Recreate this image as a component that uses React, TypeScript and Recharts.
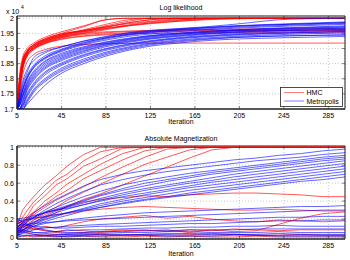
import React from 'react';
import { LineChart, Line, XAxis, YAxis, CartesianGrid, ReferenceArea } from 'recharts';

// ---------- data ----------
const X_TICKS = [5, 45, 85, 125, 165, 205, 245, 285];
const LL_TICKS = [1.7, 1.75, 1.8, 1.85, 1.9, 1.95, 2];
const MAG_TICKS = [0, 0.2, 0.4, 0.6, 0.8, 1];

const LL_X = [5, 7, 10, 14, 20, 30, 45, 65, 85, 105, 125, 150, 175, 200, 250, 300];
const LL_HMC = [
  [1.70, 1.78, 1.855, 1.89, 1.912, 1.932, 1.95, 1.972, 1.995, 2.0, 2.0, 2.0, 2.0, 2.0, 2.0, 2.0],
  [1.70, 1.77, 1.845, 1.885, 1.907, 1.927, 1.945, 1.962, 1.98, 1.995, 2.0, 2.0, 2.0, 2.0, 2.0, 2.0],
  [1.70, 1.76, 1.835, 1.878, 1.902, 1.922, 1.94, 1.955, 1.97, 1.985, 1.995, 2.0, 2.0, 2.0, 2.0, 2.0],
  [1.70, 1.79, 1.86, 1.893, 1.913, 1.93, 1.948, 1.96, 1.972, 1.982, 1.99, 1.998, 2.0, 2.0, 2.0, 2.0],
  [1.70, 1.75, 1.825, 1.872, 1.897, 1.917, 1.935, 1.95, 1.962, 1.975, 1.985, 1.993, 2.0, 2.0, 2.0, 2.0],
  [1.70, 1.78, 1.85, 1.885, 1.905, 1.922, 1.938, 1.952, 1.965, 1.978, 1.988, 1.995, 1.998, 2.0, 2.0, 2.0],
  [1.70, 1.77, 1.84, 1.88, 1.90, 1.917, 1.932, 1.942, 1.948, 1.952, 1.955, 1.957, 1.958, 1.958, 1.958, 1.958],
  [1.70, 1.74, 1.81, 1.855, 1.88, 1.896, 1.908, 1.913, 1.916, 1.917, 1.918, 1.918, 1.918, 1.918, 1.918, 1.918],
  [1.70, 1.76, 1.835, 1.875, 1.896, 1.915, 1.93, 1.94, 1.945, 1.948, 1.95, 1.951, 1.952, 1.952, 1.952, 1.952],
  [1.70, 1.77, 1.85, 1.887, 1.907, 1.925, 1.94, 1.95, 1.955, 1.958, 1.96, 1.962, 1.963, 1.964, 1.965, 1.965],
  [1.70, 1.78, 1.855, 1.89, 1.912, 1.932, 1.948, 1.958, 1.968, 1.975, 1.982, 1.99, 1.997, 2.0, 2.0, 2.0],
  [1.70, 1.80, 1.87, 1.90, 1.918, 1.937, 1.955, 1.975, 1.995, 2.0, 2.0, 2.0, 2.0, 2.0, 2.0, 2.0],
  [1.70, 1.76, 1.835, 1.878, 1.902, 1.922, 1.942, 1.958, 1.975, 1.99, 2.0, 2.0, 2.0, 2.0, 2.0, 2.0],
  [1.70, 1.77, 1.845, 1.885, 1.907, 1.927, 1.945, 1.96, 1.972, 1.985, 1.995, 2.0, 2.0, 2.0, 2.0, 2.0],
  [1.70, 1.79, 1.86, 1.893, 1.911, 1.928, 1.944, 1.956, 1.966, 1.976, 1.984, 1.99, 1.995, 1.998, 2.0, 2.0],
  [1.70, 1.76, 1.835, 1.88, 1.90, 1.919, 1.936, 1.946, 1.952, 1.956, 1.958, 1.96, 1.96, 1.96, 1.96, 1.96],
];
const LL_MET = [
  [1.70, 1.74, 1.79, 1.83, 1.86, 1.885, 1.905, 1.925, 1.94, 1.952, 1.96, 1.966, 1.972, 1.98, 1.997, 2.0],
  [1.70, 1.73, 1.77, 1.81, 1.845, 1.875, 1.898, 1.92, 1.935, 1.946, 1.954, 1.962, 1.968, 1.973, 1.98, 1.986],
  [1.70, 1.72, 1.76, 1.80, 1.835, 1.865, 1.89, 1.912, 1.928, 1.94, 1.948, 1.956, 1.962, 1.967, 1.974, 1.98],
  [1.70, 1.72, 1.75, 1.79, 1.825, 1.858, 1.884, 1.906, 1.922, 1.934, 1.943, 1.951, 1.957, 1.962, 1.969, 1.975],
  [1.70, 1.71, 1.74, 1.78, 1.815, 1.85, 1.876, 1.90, 1.917, 1.93, 1.94, 1.948, 1.954, 1.959, 1.966, 1.971],
  [1.70, 1.71, 1.73, 1.77, 1.805, 1.84, 1.868, 1.893, 1.912, 1.925, 1.935, 1.944, 1.95, 1.955, 1.962, 1.967],
  [1.70, 1.70, 1.72, 1.76, 1.795, 1.832, 1.86, 1.886, 1.906, 1.92, 1.931, 1.94, 1.947, 1.952, 1.959, 1.964],
  [1.70, 1.70, 1.715, 1.75, 1.785, 1.822, 1.852, 1.88, 1.90, 1.915, 1.926, 1.936, 1.943, 1.948, 1.955, 1.96],
  [1.70, 1.70, 1.71, 1.74, 1.775, 1.812, 1.844, 1.873, 1.894, 1.91, 1.922, 1.932, 1.939, 1.944, 1.951, 1.956],
  [1.70, 1.70, 1.705, 1.73, 1.765, 1.80, 1.835, 1.865, 1.888, 1.905, 1.918, 1.928, 1.935, 1.94, 1.947, 1.952],
  [1.70, 1.70, 1.70, 1.72, 1.755, 1.79, 1.825, 1.856, 1.88, 1.898, 1.912, 1.922, 1.93, 1.936, 1.942, 1.946],
  [1.70, 1.70, 1.70, 1.715, 1.74, 1.778, 1.818, 1.85, 1.875, 1.894, 1.908, 1.918, 1.926, 1.931, 1.936, 1.94],
  [1.70, 1.73, 1.78, 1.82, 1.87, 1.89, 1.905, 1.924, 1.938, 1.95, 1.958, 1.965, 1.97, 1.975, 1.982, 1.988],
  [1.70, 1.72, 1.76, 1.80, 1.838, 1.868, 1.893, 1.915, 1.932, 1.944, 1.952, 1.96, 1.965, 1.97, 1.977, 1.983],
  [1.70, 1.71, 1.745, 1.785, 1.82, 1.855, 1.88, 1.903, 1.92, 1.932, 1.942, 1.95, 1.956, 1.961, 1.968, 1.972],
  [1.70, 1.70, 1.725, 1.765, 1.80, 1.836, 1.864, 1.89, 1.91, 1.923, 1.933, 1.942, 1.949, 1.954, 1.96, 1.963],
  [1.70, 1.70, 1.71, 1.745, 1.78, 1.818, 1.848, 1.877, 1.898, 1.913, 1.924, 1.934, 1.941, 1.946, 1.952, 1.957],
  [1.70, 1.70, 1.70, 1.725, 1.76, 1.795, 1.83, 1.86, 1.884, 1.902, 1.915, 1.925, 1.932, 1.937, 1.942, 1.944],
  [1.70, 1.72, 1.765, 1.805, 1.84, 1.87, 1.895, 1.918, 1.935, 1.947, 1.956, 1.963, 1.969, 1.974, 1.98, 1.985],
  [1.70, 1.71, 1.74, 1.775, 1.81, 1.845, 1.872, 1.897, 1.915, 1.928, 1.938, 1.947, 1.953, 1.958, 1.964, 1.968],
];

const MAG_X = [5, 10, 15, 20, 30, 40, 50, 65, 80, 100, 120, 140, 160, 180, 200, 220, 240, 260, 280, 300];
const MAG_HMC = [
  [0.12, 0.30, 0.38, 0.45, 0.58, 0.68, 0.79, 0.92, 1, 1, 1, 1, 1, 1, 1, 1, 1, 1, 1, 1],
  [0.08, 0.22, 0.31, 0.39, 0.51, 0.63, 0.70, 0.85, 0.95, 1, 1, 1, 1, 1, 1, 1, 1, 1, 1, 1],
  [0.05, 0.18, 0.25, 0.35, 0.46, 0.58, 0.65, 0.79, 0.87, 0.99, 1, 1, 1, 1, 1, 1, 1, 1, 1, 1],
  [0.10, 0.16, 0.23, 0.28, 0.40, 0.49, 0.59, 0.70, 0.81, 0.93, 1, 1, 1, 1, 1, 1, 1, 1, 1, 1],
  [0.03, 0.12, 0.19, 0.27, 0.36, 0.45, 0.52, 0.65, 0.74, 0.86, 0.96, 1, 1, 1, 1, 1, 1, 1, 1, 1],
  [0.07, 0.14, 0.21, 0.25, 0.33, 0.41, 0.47, 0.56, 0.66, 0.78, 0.89, 0.98, 1, 1, 1, 1, 1, 1, 1, 1],
  [0.02, 0.08, 0.13, 0.19, 0.27, 0.33, 0.41, 0.50, 0.59, 0.70, 0.81, 0.89, 0.97, 1, 1, 1, 1, 1, 1, 1],
  [0.04, 0.07, 0.11, 0.14, 0.21, 0.27, 0.34, 0.42, 0.48, 0.58, 0.68, 0.78, 0.88, 0.97, 1, 1, 1, 1, 1, 1],
  [0.05, 0.10, 0.15, 0.19, 0.25, 0.30, 0.34, 0.39, 0.42, 0.44, 0.46, 0.45, 0.47, 0.48, 0.49, 0.49, 0.48, 0.47, 0.45, 0.45],
  [0.15, 0.17, 0.19, 0.21, 0.22, 0.25, 0.26, 0.29, 0.31, 0.33, 0.34, 0.33, 0.32, 0.31, 0.30, 0.30, 0.31, 0.30, 0.29, 0.29],
  [0.10, 0.12, 0.10, 0.08, 0.12, 0.10, 0.13, 0.17, 0.20, 0.22, 0.24, 0.21, 0.23, 0.20, 0.18, 0.17, 0.19, 0.18, 0.17, 0.18],
  [0.05, 0.06, 0.08, 0.10, 0.07, 0.05, 0.04, 0.05, 0.06, 0.08, 0.07, 0.08, 0.05, 0.08, 0.06, 0.07, 0.14, 0.21, 0.26, 0.28],
  [0.18, 0.15, 0.12, 0.09, 0.07, 0.06, 0.08, 0.07, 0.05, 0.07, 0.08, 0.06, 0.08, 0.07, 0.09, 0.08, 0.07, 0.08, 0.08, 0.08],
  [0.08, 0.06, 0.05, 0.03, 0.02, 0.03, 0.02, 0.02, 0.03, 0.02, 0.03, 0.04, 0.03, 0.02, 0.03, 0.02, 0.02, 0.03, 0.02, 0.02],
  [0.02, 0.01, 0.01, 0.00, 0.01, 0.00, 0.01, 0.01, 0.00, 0.00, 0.01, 0.00, 0.01, 0.00, 0.00, 0.01, 0.00, 0.00, 0.00, 0.00],
];
const MAG_MET = [
  [0.10, 0.16, 0.22, 0.27, 0.35, 0.42, 0.48, 0.57, 0.64, 0.70, 0.74, 0.77, 0.80, 0.83, 0.86, 0.88, 0.91, 0.93, 0.96, 0.98],
  [0.05, 0.12, 0.18, 0.22, 0.30, 0.37, 0.43, 0.51, 0.58, 0.64, 0.69, 0.73, 0.76, 0.79, 0.82, 0.85, 0.87, 0.89, 0.92, 0.94],
  [0.08, 0.13, 0.17, 0.21, 0.28, 0.33, 0.38, 0.45, 0.51, 0.58, 0.63, 0.67, 0.71, 0.74, 0.77, 0.80, 0.83, 0.86, 0.89, 0.91],
  [0.12, 0.15, 0.19, 0.22, 0.27, 0.31, 0.35, 0.41, 0.47, 0.54, 0.60, 0.64, 0.68, 0.72, 0.75, 0.78, 0.81, 0.84, 0.87, 0.89],
  [0.02, 0.07, 0.12, 0.16, 0.23, 0.29, 0.34, 0.40, 0.46, 0.52, 0.57, 0.62, 0.66, 0.70, 0.73, 0.76, 0.79, 0.82, 0.85, 0.87],
  [0.15, 0.18, 0.20, 0.23, 0.27, 0.30, 0.33, 0.38, 0.43, 0.49, 0.54, 0.58, 0.62, 0.66, 0.70, 0.73, 0.76, 0.79, 0.82, 0.85],
  [0.06, 0.10, 0.14, 0.17, 0.22, 0.27, 0.31, 0.36, 0.41, 0.47, 0.52, 0.56, 0.60, 0.63, 0.67, 0.70, 0.73, 0.76, 0.79, 0.82],
  [0.20, 0.21, 0.22, 0.24, 0.27, 0.30, 0.32, 0.36, 0.40, 0.45, 0.49, 0.53, 0.57, 0.61, 0.64, 0.67, 0.70, 0.73, 0.76, 0.79],
  [0.03, 0.08, 0.11, 0.14, 0.19, 0.23, 0.27, 0.32, 0.37, 0.42, 0.47, 0.51, 0.55, 0.58, 0.61, 0.64, 0.67, 0.70, 0.73, 0.76],
  [0.09, 0.11, 0.14, 0.16, 0.20, 0.24, 0.27, 0.31, 0.35, 0.40, 0.44, 0.48, 0.52, 0.55, 0.58, 0.61, 0.64, 0.67, 0.70, 0.73],
  [0.01, 0.05, 0.09, 0.12, 0.17, 0.21, 0.24, 0.29, 0.33, 0.38, 0.42, 0.45, 0.49, 0.52, 0.55, 0.58, 0.61, 0.64, 0.67, 0.70],
  [0.18, 0.19, 0.20, 0.21, 0.23, 0.25, 0.27, 0.30, 0.33, 0.37, 0.41, 0.44, 0.47, 0.50, 0.53, 0.56, 0.59, 0.62, 0.64, 0.67],
  [0.05, 0.08, 0.10, 0.12, 0.15, 0.17, 0.19, 0.21, 0.23, 0.25, 0.27, 0.28, 0.29, 0.30, 0.31, 0.32, 0.33, 0.34, 0.34, 0.35],
  [0.12, 0.13, 0.14, 0.15, 0.16, 0.17, 0.18, 0.19, 0.20, 0.21, 0.22, 0.23, 0.24, 0.25, 0.26, 0.27, 0.28, 0.29, 0.30, 0.30],
  [0.02, 0.04, 0.06, 0.08, 0.10, 0.11, 0.12, 0.13, 0.14, 0.15, 0.16, 0.17, 0.18, 0.19, 0.20, 0.21, 0.22, 0.22, 0.23, 0.23],
  [0.15, 0.14, 0.13, 0.12, 0.11, 0.10, 0.10, 0.11, 0.12, 0.12, 0.13, 0.14, 0.15, 0.15, 0.16, 0.17, 0.18, 0.18, 0.19, 0.19],
  [0.08, 0.07, 0.06, 0.05, 0.05, 0.06, 0.07, 0.08, 0.08, 0.09, 0.10, 0.10, 0.11, 0.11, 0.12, 0.12, 0.13, 0.12, 0.12, 0.12],
  [0.20, 0.17, 0.14, 0.11, 0.08, 0.06, 0.05, 0.05, 0.06, 0.06, 0.07, 0.07, 0.08, 0.08, 0.08, 0.09, 0.09, 0.09, 0.09, 0.09],
  [0.10, 0.08, 0.07, 0.05, 0.04, 0.03, 0.03, 0.04, 0.04, 0.05, 0.05, 0.06, 0.06, 0.05, 0.05, 0.05, 0.06, 0.05, 0.05, 0.05],
  [0.03, 0.02, 0.02, 0.01, 0.02, 0.02, 0.03, 0.03, 0.02, 0.02, 0.03, 0.03, 0.04, 0.04, 0.03, 0.03, 0.04, 0.03, 0.03, 0.03],
  [0.06, 0.05, 0.04, 0.03, 0.02, 0.01, 0.01, 0.02, 0.03, 0.03, 0.02, 0.02, 0.02, 0.03, 0.03, 0.02, 0.02, 0.02, 0.02, 0.02],
  [0.00, 0.01, 0.02, 0.02, 0.01, 0.01, 0.00, 0.01, 0.01, 0.02, 0.02, 0.01, 0.01, 0.01, 0.02, 0.02, 0.01, 0.01, 0.01, 0.01],
];

// ---------- style ----------
const FONT = '"Liberation Sans", Arial, Helvetica, sans-serif';
const W = 350;
const H = 130;
const TOP = 16;
const RIGHT = 5;
const XAXIS_H = 21;
const YAXIS_W = 17;
const PLOT_RIGHT = W - RIGHT;
const RED = '#ff0000';
const BLUE = '#0000ff';

const XTick = (props: any) => {
  const { x, y, payload } = props;
  return (
    <g>
      <line x1={x} x2={x} y1={y} y2={y - 3} stroke="#333" strokeWidth={0.6} />
      <line x1={x} x2={x} y1={TOP} y2={TOP + 3} stroke="#333" strokeWidth={0.6} />
      <text x={x} y={y + 8.5} textAnchor="middle" fontSize={7} fontFamily={FONT} fill="#000">
        {payload.value}
      </text>
    </g>
  );
};

const YTick = (props: any) => {
  const { x, y, payload } = props;
  return (
    <g>
      <line x1={x} x2={x + 3} y1={y} y2={y} stroke="#333" strokeWidth={0.6} />
      <line x1={PLOT_RIGHT} x2={PLOT_RIGHT - 3} y1={y} y2={y} stroke="#333" strokeWidth={0.6} />
      <text x={x - 3} y={y + 2.5} textAnchor="end" fontSize={7} fontFamily={FONT} fill="#000">
        {String(payload.value)}
      </text>
    </g>
  );
};

function buildRows(xs: number[], hmc: number[][], met: number[][]) {
  return xs.map((x, i) => {
    const row: any = { x };
    hmc.forEach((s, k) => (row['h' + k] = s[i]));
    met.forEach((s, k) => (row['m' + k] = s[i]));
    return row;
  });
}

function Panel(props: {
  xs: number[];
  hmc: number[][];
  met: number[][];
  domain: [number, number];
  ticks: number[];
  curve: 'monotone' | 'linear';
}) {
  const { xs, hmc, met, domain, ticks, curve } = props;
  const data = buildRows(xs, hmc, met);
  return (
    <LineChart width={W} height={H} data={data} margin={{ top: TOP, right: RIGHT, bottom: 0, left: 0 }}>
      <CartesianGrid stroke="#b0b0b0" strokeDasharray="1 2" strokeWidth={0.7} />
      <XAxis
        dataKey="x"
        type="number"
        domain={[5, 300]}
        ticks={X_TICKS}
        interval={0}
        height={XAXIS_H}
        tickSize={0}
        tickMargin={0}
        tick={<XTick />}
        axisLine={{ stroke: '#222' }}
        allowDataOverflow
      />
      <YAxis
        type="number"
        domain={domain}
        ticks={ticks}
        interval={0}
        width={YAXIS_W}
        tickSize={0}
        tickMargin={0}
        tick={<YTick />}
        axisLine={{ stroke: '#222' }}
        allowDataOverflow
      />
      {hmc.map((_, k) => (
        <Line
          key={'h' + k}
          dataKey={'h' + k}
          type={curve}
          stroke={RED}
          strokeOpacity={0.65}
          strokeWidth={1}
          dot={false}
          isAnimationActive={false}
        />
      ))}
      {met.map((_, k) => (
        <Line
          key={'m' + k}
          dataKey={'m' + k}
          type={curve}
          stroke={BLUE}
          strokeOpacity={0.6}
          strokeWidth={1}
          dot={false}
          isAnimationActive={false}
        />
      ))}
      <ReferenceArea
        x1={5}
        x2={300}
        y1={domain[0]}
        y2={domain[1]}
        fill="none"
        fillOpacity={0}
        stroke="#222"
        strokeWidth={1}
        ifOverflow="visible"
      />
    </LineChart>
  );
}

export default function App() {
  return (
    <div style={{ position: 'absolute', left: 0, top: 0, width: W, height: 260, background: '#fff', fontFamily: FONT }}>
      <div style={{ position: 'absolute', left: 0, top: 0 }}>
        <Panel xs={LL_X} hmc={LL_HMC} met={LL_MET} domain={[1.7, 2.0075]} ticks={LL_TICKS} curve="monotone" />
      </div>
      <div style={{ position: 'absolute', left: 0, top: 130 }}>
        <Panel xs={MAG_X} hmc={MAG_HMC} met={MAG_MET} domain={[-0.022, 1.0145]} ticks={MAG_TICKS} curve="linear" />
      </div>
      <svg width={W} height={260} style={{ position: 'absolute', left: 0, top: 0, pointerEvents: 'none' }}>
        <g fontFamily={FONT} fill="#000">
          <text x={181} y={10} textAnchor="middle" fontSize={7}>Log likelihood</text>
          <text x={6} y={13.5} fontSize={7}>x 10</text>
          <text x={21} y={9} fontSize={5}>4</text>
          <text x={181} y={124} textAnchor="middle" fontSize={7}>Iteration</text>
          <text x={181} y={140.5} textAnchor="middle" fontSize={7}>Absolute Magnetization</text>
          <text x={181} y={255.5} textAnchor="middle" fontSize={7}>Iteration</text>
        </g>
        <g>
          <rect x={280.5} y={87.5} width={62} height={19} fill="#fff" stroke="#222" strokeWidth={0.8} />
          <line x1={284} x2={304} y1={92.5} y2={92.5} stroke={RED} strokeOpacity={0.5} strokeWidth={1} />
          <line x1={284} x2={304} y1={101} y2={101} stroke={BLUE} strokeOpacity={0.5} strokeWidth={1} />
          <text x={306.5} y={95} fontSize={7} fontFamily={FONT} fill="#000">HMC</text>
          <text x={306.5} y={103.5} fontSize={7} fontFamily={FONT} fill="#000">Metropolis</text>
        </g>
      </svg>
    </div>
  );
}
